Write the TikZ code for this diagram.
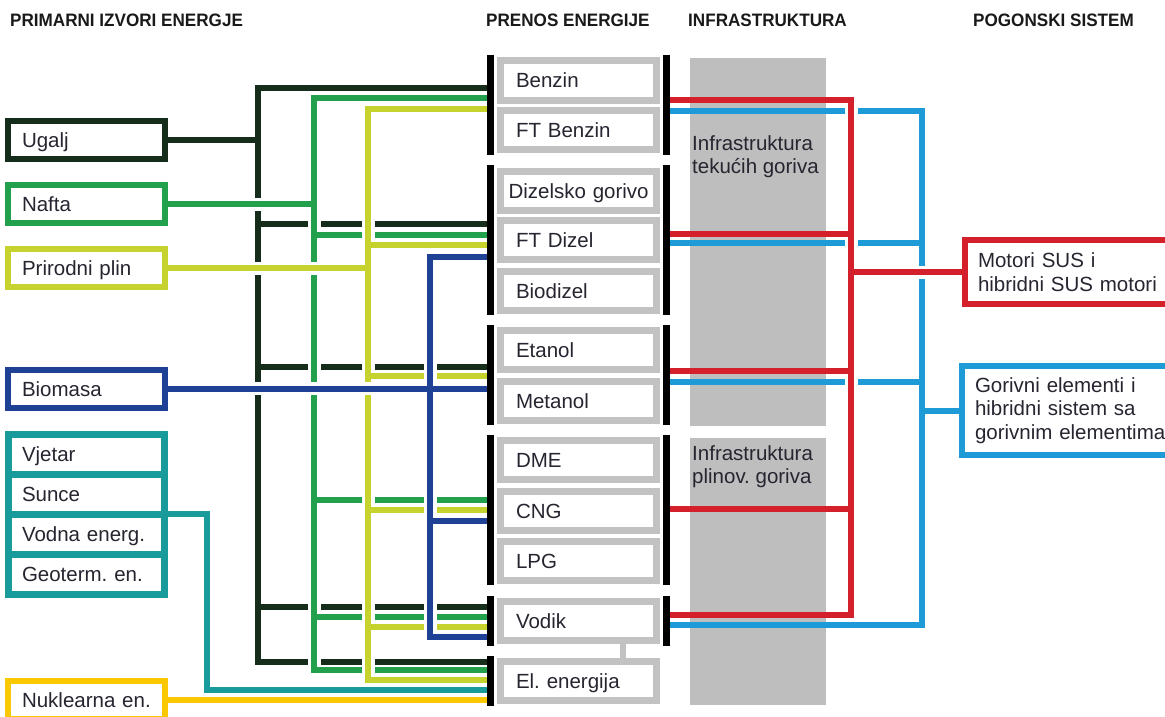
\documentclass[tikz,border=0pt]{standalone}
\usepackage{fontspec}
\setmainfont{Liberation Sans}
\newfontfamily\headfont[FakeStretch=0.95]{Liberation Sans}
\frenchspacing

\definecolor{ugljen}{RGB}{22,45,27}
\definecolor{naftag}{RGB}{34,160,75}
\definecolor{plinz}{RGB}{198,210,45}
\definecolor{biom}{RGB}{30,65,150}
\definecolor{obnov}{RGB}{25,155,155}
\definecolor{nukl}{RGB}{250,200,0}
\definecolor{crvena}{RGB}{212,32,42}
\definecolor{plava}{RGB}{28,155,215}
\definecolor{sivo}{RGB}{194,194,194}
\definecolor{tekst}{RGB}{40,36,48}

\begin{document}
\begin{tikzpicture}[x=1pt,y=-1pt,
  every node/.style={font=\fontsize{20.5}{23.5}\selectfont, text=tekst},
  naslov/.style={font=\headfont\bfseries\fontsize{18}{20}\selectfont, text=black!90, inner sep=0pt, anchor=base west},
  izvor/.style={draw, line width=6pt, fill=white, minimum width=157pt, minimum height=38pt, text width=129pt, align=left, text height=15pt, text depth=0pt, inner sep=0pt},
  obnovljivi/.style={izvor, draw=obnov, line width=7pt, minimum width=156pt, minimum height=40pt, outer sep=0pt},
  gorivo/.style={draw=sivo, line width=7pt, fill=white, minimum width=156pt, minimum height=39pt, text width=125pt, align=left, text height=15pt, text depth=0pt, inner sep=0pt},
  pogon/.style={draw, line width=6pt, fill=white, minimum width=226pt, text width=200pt, align=left, inner sep=0pt, anchor=west},
  infra/.style={fill=sivo!98!black},
  bar/.style={line width=7pt, black},
  vod/.style={line width=6pt},
  halo/.style={draw=white, line width=13pt}]
\useasboundingbox (0,0) rectangle (1165,717);

\node[naslov] at (10,27) {PRIMARNI IZVORI ENERGJE};
\node[naslov] at (486,27) {PRENOS ENERGIJE};
\node[naslov] at (688,27) {INFRASTRUKTURA};
\node[naslov] at (973,27) {POGONSKI SISTEM};

\fill[infra] (690,58) rectangle (826,426);
\fill[infra] (690,438) rectangle (826,705);
\node[anchor=north west, inner sep=0pt, align=left] at (692,135) {Infrastruktura\\tekućih goriva};
\node[anchor=north west, inner sep=0pt, align=left] at (692,445) {Infrastruktura\\plinov. goriva};

\node[izvor, draw=ugljen] (ugalj) at (86.5,139.5) {Ugalj};
\node[izvor, draw=naftag] (nafta) at (86.5,204) {Nafta};
\node[izvor, draw=plinz] (plin) at (86.5,268) {Prirodni plin};
\node[izvor, draw=biom] (biomasa) at (86.5,388.5) {Biomasa};
\node[obnovljivi] (vjetar) at (86.5,454) {Vjetar};
\node[obnovljivi] (sunce) at (86.5,494) {Sunce};
\node[obnovljivi] (vodna) at (86.5,534) {Vodna energ.};
\node[obnovljivi] (geoterm) at (86.5,574) {Geoterm. en.};
\node[izvor, draw=nukl] (nuklearna) at (86.5,700) {Nuklearna en.};

\node[gorivo] (benzin) at (578.5,80.5) {Benzin};
\node[gorivo] (ftbenzin) at (578.5,130) {FT Benzin};
\node[gorivo, text width=140pt] (dizel) at (578.5,190.5) {\mbox{Dizelsko gorivo}};
\node[gorivo] (ftdizel) at (578.5,240) {FT Dizel};
\node[gorivo] (biodizel) at (578.5,290.5) {Biodizel};
\node[gorivo] (etanol) at (578.5,350) {Etanol};
\node[gorivo] (metanol) at (578.5,400.5) {Metanol};
\node[gorivo] (dme) at (578.5,460) {DME};
\node[gorivo] (cng) at (578.5,510.5) {CNG};
\node[gorivo] (lpg) at (578.5,561) {LPG};
\node[gorivo] (vodik) at (578.5,621) {Vodik};
\node[gorivo] (struja) at (578.5,681) {El. energija};
\draw[sivo, line width=6pt] ([xshift=44.5pt]vodik.south) -- ([xshift=44.5pt]struja.north);

\node[pogon, draw=crvena, minimum height=64pt] (motori) at (962,272) {Motori SUS i\\hibridni SUS motori};
\node[pogon, draw=plava, minimum height=89pt] (gorivni) at (959,410.5) {Gorivni elementi i\\hibridni sistem sa\\gorivnim elementima};

\draw[vod, ugljen] (ugalj.east) -- (258,139.5);
\draw[vod, ugljen] (490,88) -| (258,662) -- (490,662);
\foreach \y in {224,367,607} \draw[vod, ugljen] (258,\y) -- (490,\y);

\draw[halo] (314,98) -- (314,670);
\draw[halo] (nafta.east) -- (314,204);
\draw[vod, naftag] (nafta.east) -- (314,204);
\draw[vod, naftag] (490,98) -| (314,670) -- (490,670);
\foreach \y in {235,500,617} \draw[vod, naftag] (314,\y) -- (490,\y);

\draw[halo] (368,109) -- (368,680);
\draw[halo] (plin.east) -- (368,268);
\draw[vod, plinz] (plin.east) -- (368,268);
\draw[vod, plinz] (490,109) -| (368,680) -- (490,680);
\foreach \y in {245,376,510,627} \draw[vod, plinz] (368,\y) -- (490,\y);

\draw[halo] (430,257) -- (430,637);
\draw[halo] (biomasa.east) -- (490,388.5);
\draw[vod, biom] (biomasa.east) -- (490,388.5);
\draw[vod, biom] (490,257) -| (430,637) -- (490,637);
\draw[vod, biom] (430,521) -- (490,521);

\draw[vod, obnov] (sunce.south east) -- (207,514) -- (207,690) -- (490,690);
\draw[vod, nukl] (nuklearna.east) -- (490,700);

\draw[vod, plava] (666.5,111) -| (922,625) -- (666.5,625);
\foreach \y in {243,382} \draw[vod, plava] (666.5,\y) -- (922,\y);
\draw[vod, plava] (922,410.5) -- (gorivni.west);

\draw[halo] (851,100) -- (851,615);
\draw[halo] (851,272) -- (motori.west);
\draw[vod, crvena] (666.5,100) -| (851,615) -- (666.5,615);
\foreach \y in {234,371,509} \draw[vod, crvena] (666.5,\y) -- (851,\y);
\draw[vod, crvena] (851,272) -- (motori.west);

\foreach \a/\b in {55/155,165/315,325/425,435/585,596/646} {
  \draw[bar] (490,\a) -- (490,\b);
  \draw[bar] (666.5,\a) -- (666.5,\b);
}
\draw[bar] (490,656) -- (490,706);
\end{tikzpicture}
\end{document}
